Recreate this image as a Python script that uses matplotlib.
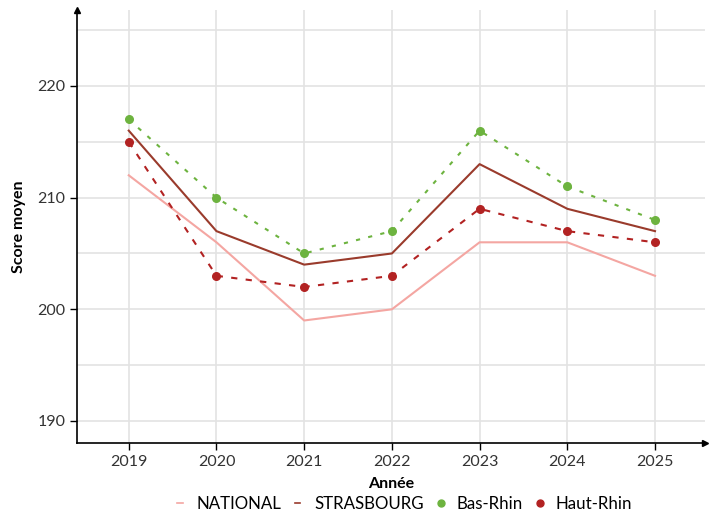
import matplotlib
matplotlib.use("Agg")
import matplotlib.pyplot as plt
from matplotlib.lines import Line2D

years = [2019, 2020, 2021, 2022, 2023, 2024, 2025]
national = [212, 206, 199, 200, 206, 206, 203]
strasbourg = [216, 207, 204, 205, 213, 209, 207]
bas_rhin = [217, 210, 205, 207, 216, 211, 208]
haut_rhin = [215, 203, 202, 203, 209, 207, 206]

c_nat = "#f4a6a2"
c_str = "#9a3b2c"
c_bas = "#6db33f"
c_haut = "#b22222"

plt.rcParams['font.family'] = ['Lato', 'DejaVu Sans']

fig = plt.figure(figsize=(7.18, 5.18), dpi=100)
ax = fig.add_axes([77/718, 75/518, (705-77)/718, (508-75)/518])

ax.plot(years, national, color=c_nat, lw=1.5, zorder=3)
ax.plot(years, strasbourg, color=c_str, lw=1.5, zorder=3)
ax.plot(years, bas_rhin, color=c_bas, lw=1.5, ls=(0, (2, 4)), zorder=3)
ax.plot(years, haut_rhin, color=c_haut, lw=1.5, ls=(0, (3, 4)), zorder=3)
ax.scatter(years, bas_rhin, color=c_bas, s=30, zorder=4)
ax.scatter(years, haut_rhin, color=c_haut, s=30, zorder=4)

ax.set_xlim(2018.41, 2025.57)
ax.set_ylim(188.03, 226.8)
ax.set_xticks(years)
ax.set_yticks([190, 200, 210, 220])
ax.set_yticks([195, 205, 215, 225], minor=True)
ax.grid(True, which='both', color='#e3e3e3', lw=1.2, zorder=0)
ax.tick_params(axis='y', which='minor', length=0)
ax.tick_params(axis='both', which='major', length=5, width=1, labelsize=11.5,
               colors='black', labelcolor='#333333')
for s in ['top', 'right']:
    ax.spines[s].set_visible(False)
for s in ['left', 'bottom']:
    ax.spines[s].set_linewidth(1.2)

# axis arrows
ax.plot(1, 0, '>k', transform=ax.transAxes, clip_on=False, ms=4)
ax.plot(0, 1, '^k', transform=ax.transAxes, clip_on=False, ms=4)

ax.set_xlabel("Année", fontsize=11.5, fontweight='bold', labelpad=6)
ax.set_ylabel("Score moyen", fontsize=11.5, fontweight='bold', labelpad=8)

handles = [
    Line2D([], [], color=c_nat, lw=1.2),
    Line2D([], [], color=c_str, lw=1.2),
    Line2D([], [], color=c_bas, lw=0, marker='o', ms=5),
    Line2D([], [], color=c_haut, lw=0, marker='o', ms=5),
]
labels = ["NATIONAL", "STRASBOURG", "Bas-Rhin", "Haut-Rhin"]
fig.legend(handles, labels, loc='lower center', bbox_to_anchor=(0.564, -0.018),
           ncol=4, frameon=False, fontsize=12.2, handlelength=0.3,
           handletextpad=0.8, columnspacing=0.85)

fig.savefig("out.png", dpi=100)
